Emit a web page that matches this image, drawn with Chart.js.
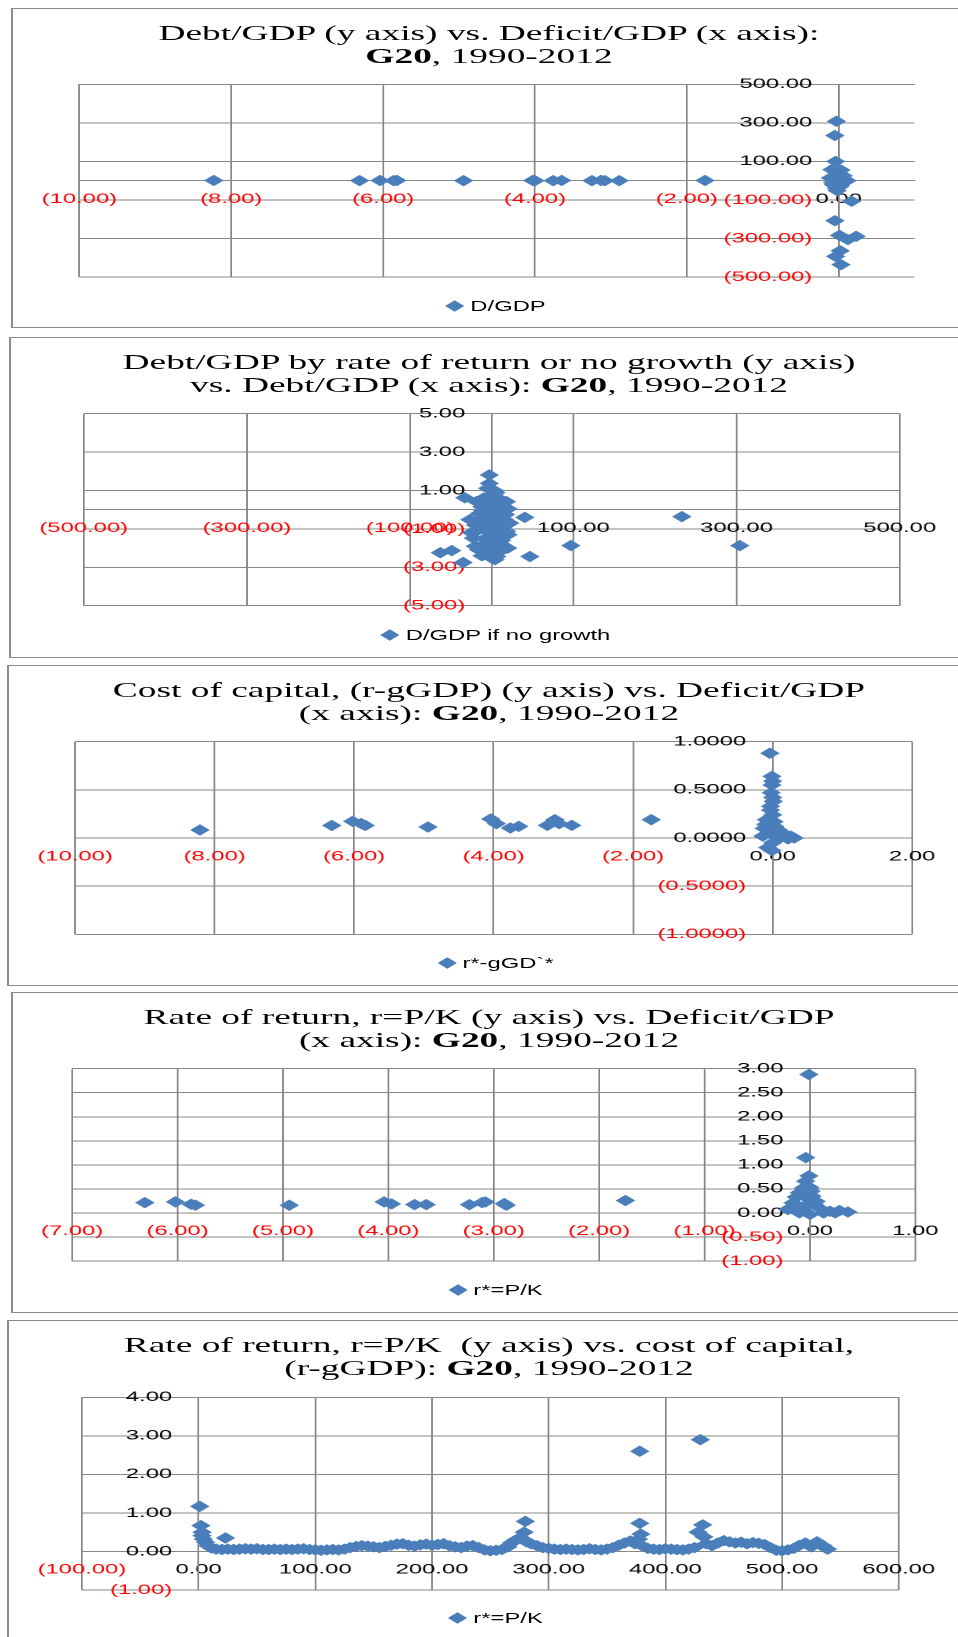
<!DOCTYPE html>
<html>
<head>
<meta charset="utf-8">
<script src="https://cdn.jsdelivr.net/npm/chart.js@4.4.1/dist/chart.umd.min.js"></script>
<style>
body { margin: 0; background: #fff; width: 958px; height: 1637px; overflow: hidden; position: relative; }
.frame { position: absolute; border: 1px solid #8c8c8c; border-left-width: 2px; box-sizing: border-box; }
.stretch { position: absolute; transform: scaleX(1.7); transform-origin: 0 0; }
.stretch canvas { position: absolute; left: 0; top: 0; }
.title { position: absolute; top: 12.5px; left: 0; text-align: center; font-family: 'Liberation Serif', serif; font-size: 22px; line-height: 23px; color: #000; white-space: nowrap; }
.legend { position: absolute; top: 290px; left: 0; text-align: center; font-family: 'Liberation Sans', sans-serif; font-size: 14px; line-height: 17px; color: #000; white-space: nowrap; }
.legend i { display: inline-block; width: 8px; height: 8px; background: #4A7EBB; transform: rotate(45deg); margin-right: 5px; vertical-align: 1px; }
</style>
</head>
<body>
<script>

// Debt/GDP vs Deficit/GDP
var c1X = [-8.23, -6.31, -6.04, -5.86, -5.82, -4.94, -4.03, -4.00, -3.76, -3.65, -3.25, -3.13, -3.08, -2.89, -1.76,
    -0.03, -0.05, -0.04, -0.09, 0.00, -0.11, -0.02, 0.11, -0.07, 0.02, -0.02, 0.17, -0.05, 0.01, 0.12, 0.23, 0.02, -0.04, 0.03,
    -0.05, 0.05, -0.08, 0.03, 0.08, -0.03, 0.06];
var c1Y = [1, 0, 1, 0, 1, 0, 1, 0, 0, 1, 0, 1, 0, 0, 1,
    308, 234, 100, 57, 40, 14, 0, 0, -21, -29, -52, -107, -208, -284, -306, -289, -364, -393, -436,
    20, 10, -10, 55, -5, -40, 25];

// Debt/GDP if no growth vs Debt/GDP
var c2X = [-3, -3, -5, 4, 8.6, -33, -18.5, 18, -8, 11.5, 40.5, -26.7, -14, 6.1, 18.3, -22.4, -4, 12.2, -16.2, -63, -49, -35, 6.1, 0, 46.7, 19.5,
    233, 97, 304, 0, 5, -5, 10, -10, 2, 15, -2, 8, -12, 20, -20, 3, 12,
    -10, -5, 5, 15, -15, -20, 10, -8, 0, -12, 20, 22, -25, 5,
    -2, 6, -6, 14, -16, 0, 9, -9, 17, -3, 4, -18, 13, -11, 1, 7];
var c2Y = [1.81, 1.37, 1.11, 0.85, 0.59, 0.62, 0.42, 0.42, 0, -0.08, -0.4, -0.52, -0.69, -0.87, -1.13, -1.48, -1.65, -1.82, -2.08, -2.24, -2.13, -2.75, -2.44, -2.52, -2.44, -2.0,
    -0.36, -1.87, -1.87, 0.3, -0.3, -0.5, 0.2, -1.0, -1.3, -0.5, 0.7, -2.2, 0.15, 0.05, -1.9, 1.0, -1.6,
    0.6, 0.45, 0.5, 0.1, -0.2, -0.8, -1.1, -1.5, -1.9, -2.4, -1.3, -0.7, -1.2, 0.9,
    0.2, -0.1, -0.35, -0.9, -0.6, -0.7, -1.45, -1.8, -0.25, -2.3, -2.6, -1.1, -2.1, -0.05, 0.55, -1.95];

// cost of capital vs Deficit/GDP
var c3X = [-8.21, -6.32, -6.02, -5.9, -5.84, -4.94, -4.04, -3.96, -3.76, -3.64, -3.23, -3.12, -3.06, -2.88, -1.74,
    -0.04, -0.01, 0.00, -0.01, -0.02, 0.01, -0.03, 0.00, -0.09, 0.02, -0.12, 0.07, -0.14, 0.19, 0.26, 0.31, 0.22, 0.00, -0.07, -0.01,
    0.03, -0.05, 0.05, 0.10, -0.03, 0.00, 0.12, -0.10];
var c3Y = [0.083, 0.13, 0.173, 0.15, 0.13, 0.114, 0.197, 0.149, 0.104, 0.121, 0.131, 0.19, 0.149, 0.131, 0.19,
    0.88, 0.64, 0.59, 0.55, 0.47, 0.38, 0.29, 0.24, 0.19, 0.17, 0.10, 0.09, 0.02, 0.035, 0.02, 0.0, -0.01, -0.05, -0.10, -0.13,
    0.12, 0.05, 0.03, 0.06, 0.33, 0.42, 0.01, 0.14];

// rate of return vs Deficit/GDP
var c4X = [-6.31, -6.02, -5.87, -5.83, -4.94, -4.04, -3.97, -3.75, -3.64, -3.23, -3.11, -3.08, -2.90, -2.88, -1.75,
    -0.01, -0.04, -0.01, -0.04, -0.06, 0.00, -0.10, -0.13, 0.02, -0.16, 0.06, -0.19, 0.09, 0.19, 0.28, 0.36, -0.10, 0.00, 0.13, 0.24,
    -0.21, -0.05, 0.01, -0.02, 0.04, -0.08];
var c4Y = [0.215, 0.229, 0.18, 0.16, 0.16, 0.229, 0.187, 0.173, 0.173, 0.173, 0.215, 0.229, 0.194, 0.16, 0.257,
    2.88, 1.15, 0.77, 0.66, 0.52, 0.53, 0.42, 0.33, 0.35, 0.21, 0.24, 0.10, 0.10, 0.035, 0.05, 0.02, 0.0, -0.03, 0.0, 0.0,
    0.07, 0.14, 0.45, 0.30, 0.18, 0.05];

// rate of return vs cost of capital
var c5X = [1, 2, 3, 3, 4, 6, 8, 11, 15, 20, 23, 25, 30, 35, 40, 45, 50, 55, 60, 65, 70, 75, 80, 85, 90, 95, 100,
    105, 110, 115, 120, 125, 130, 135, 140, 145, 150, 155, 160, 165, 170, 175, 180, 185, 190, 195, 200,
    205, 210, 215, 220, 225, 230, 235, 240, 245, 250, 255, 260, 265, 268, 272, 276, 279, 280, 281, 285, 290, 295, 300,
    305, 310, 315, 320, 325, 330, 335, 340, 345, 350, 355, 360, 365, 370, 374, 377, 378, 378, 379, 380, 385, 390, 395, 400,
    405, 410, 415, 420, 425, 428, 430, 432, 433, 435, 440, 445, 450, 455, 460, 465, 470, 475, 480, 485, 490, 495, 500,
    505, 510, 515, 520, 525, 530, 535, 539];
var c5Y = [1.17, 0.67, 0.5, 0.41, 0.32, 0.24, 0.15, 0.09, 0.06, 0.05, 0.35, 0.06, 0.05, 0.06, 0.07, 0.06, 0.07, 0.05, 0.05, 0.06, 0.05, 0.06, 0.05, 0.06, 0.07, 0.05, 0.04,
    0.03, 0.04, 0.05, 0.04, 0.06, 0.1, 0.13, 0.15, 0.14, 0.12, 0.1, 0.13, 0.16, 0.19, 0.2, 0.16, 0.14, 0.17, 0.19, 0.16,
    0.18, 0.2, 0.15, 0.12, 0.1, 0.14, 0.15, 0.1, 0.04, 0.02, 0.03, 0.05, 0.12, 0.22, 0.3, 0.36, 0.5, 0.78, 0.25, 0.2, 0.15, 0.1, 0.08,
    0.06, 0.05, 0.06, 0.05, 0.04, 0.05, 0.07, 0.05, 0.04, 0.06, 0.1, 0.16, 0.22, 0.27, 0.2, 0.32, 2.6, 0.73, 0.45, 0.15, 0.08, 0.06, 0.05, 0.07,
    0.06, 0.05, 0.04, 0.06, 0.1, 0.5, 2.9, 0.69, 0.38, 0.2, 0.15, 0.22, 0.28, 0.25, 0.22, 0.24, 0.2, 0.23, 0.21, 0.18, 0.1, 0.03, 0.02,
    0.04, 0.08, 0.16, 0.22, 0.12, 0.25, 0.15, 0.06];

var S = 1.7;
var BLUE = '#4A7EBB';
var GRID = '#868686';

var charts = [
    { left: 11, top: 8, height: 320, plot: [79.4, 84.3, 915, 277],
      title: 'Debt/GDP (y axis) vs. Deficit/GDP (x axis):<br><b>G20</b>, 1990-2012',
      label: 'D/GDP', xs: c1X, ys: c1Y,
      x: [-10, 1, 2, 2], y: [-500, 500, 200, 2] },
    { left: 9, top: 337, height: 321, plot: [83.7, 413.7, 900.4, 605.7],
      title: 'Debt/GDP by rate of return or no growth (y axis)<br>vs. Debt/GDP (x axis): <b>G20</b>, 1990-2012',
      label: 'D/GDP if no growth', xs: c2X, ys: c2Y,
      x: [-500, 500, 200, 2], y: [-5, 5, 2, 2] },
    { left: 7, top: 665, height: 321, plot: [75.1, 741.7, 911.4, 934.3],
      title: 'Cost of capital, (r-gGDP) (y axis) vs. Deficit/GDP<br>(x axis): <b>G20</b>, 1990-2012',
      label: 'r*-gGD`*', xs: c3X, ys: c3Y,
      x: [-10, 2, 2, 2], y: [-1, 1, 0.5, 4] },
    { left: 11, top: 992, height: 321, plot: [72.1, 1068.7, 915.7, 1261],
      title: 'Rate of return, r=P/K (y axis) vs. Deficit/GDP<br>(x axis): <b>G20</b>, 1990-2012',
      label: 'r*=P/K', xs: c4X, ys: c4Y,
      x: [-7, 1, 1, 2], y: [-1, 3, 0.5, 2] },
    { left: 7, top: 1320, height: 317, plot: [81.9, 1397.3, 898, 1590],
      title: 'Rate of return, r=P/K &nbsp;(y axis) vs. cost of capital,<br>(r-gGDP): <b>G20</b>, 1990-2012',
      label: 'r*=P/K', xs: c5X, ys: c5Y,
      x: [-100, 600, 100, 2], y: [-1, 4, 1, 2] }
];

function fmt(dec) {
    return function (v) {
        var s = Math.abs(v).toFixed(dec);
        return v < -1e-9 ? '(' + s + ')' : s;
    };
}

function tickColor(c) {
    return c.tick && c.tick.value < -1e-9 ? '#ff0000' : '#000000';
}

function tickFont() {
    return { family: "'Liberation Sans', Arial, sans-serif", size: 14 };
}

function addChart(idx, c) {
    var frame = document.createElement('div');
    frame.className = 'frame';
    frame.style.left = c.left + 'px';
    frame.style.top = c.top + 'px';
    frame.style.width = (962 - c.left) + 'px';
    frame.style.height = (idx == 4 ? 340 : c.height) + 'px';
    document.body.appendChild(frame);

    var w = Math.round((960 - c.left) / S);
    var box = document.createElement('div');
    box.className = 'stretch';
    box.style.left = c.left + 'px';
    box.style.top = c.top + 'px';
    box.style.width = w + 'px';
    box.style.height = c.height + 'px';
    box.innerHTML = '<canvas id="myChart' + idx + '" width="' + w + '" height="' + c.height + '"></canvas>' +
        '<div class="title" style="width:' + (2 * (489 - c.left) / S) + 'px">' + c.title + '</div>' +
        '<div class="legend" style="width:' + (2 * (497 - c.left) / S) + 'px"><i></i>' + c.label + '</div>';
    document.body.appendChild(box);

    var pts = [];
    for (var i = 0; i != c.xs.length; i++)
        pts.push({ x: c.xs[i], y: c.ys[i] });

    var xFmt = fmt(c.x[3]);
    var yFmt = fmt(c.y[3]);

    new Chart(document.getElementById('myChart' + idx), {
        type: 'scatter',
        data: {
            datasets: [{
                label: c.label,
                data: pts,
                pointStyle: 'rectRot',
                pointRadius: 5.5,
                pointHoverRadius: 5.5,
                backgroundColor: BLUE,
                borderColor: BLUE,
                borderWidth: 0.5
            }]
        },
        options: {
            responsive: false,
            animation: false,
            devicePixelRatio: 2,
            layout: {
                padding: {
                    left: (c.plot[0] - c.left) / S,
                    right: (960 - c.plot[2]) / S,
                    top: c.plot[1] - c.top,
                    bottom: c.top + c.height - c.plot[3]
                }
            },
            plugins: { legend: { display: false }, tooltip: { enabled: false } },
            scales: {
                x: {
                    type: 'linear', min: c.x[0], max: c.x[1], position: { y: 0 },
                    grid: { color: GRID, drawTicks: false },
                    border: { color: GRID },
                    ticks: {
                        stepSize: c.x[2], includeBounds: false, autoSkip: false, maxRotation: 0,
                        padding: 10, color: tickColor, font: tickFont(), callback: xFmt
                    }
                },
                y: {
                    type: 'linear', min: c.y[0], max: c.y[1], position: { x: 0 },
                    grid: { color: GRID, drawTicks: false },
                    border: { color: GRID },
                    ticks: {
                        stepSize: c.y[2], includeBounds: false, autoSkip: false,
                        color: tickColor, font: tickFont(),
                        callback: function (v) { return yFmt(v) + '    '; }
                    }
                }
            }
        }
    });
}

for (var k = 0; k != charts.length; k++)
    addChart(k, charts[k]);

</script>
</body>
</html>
